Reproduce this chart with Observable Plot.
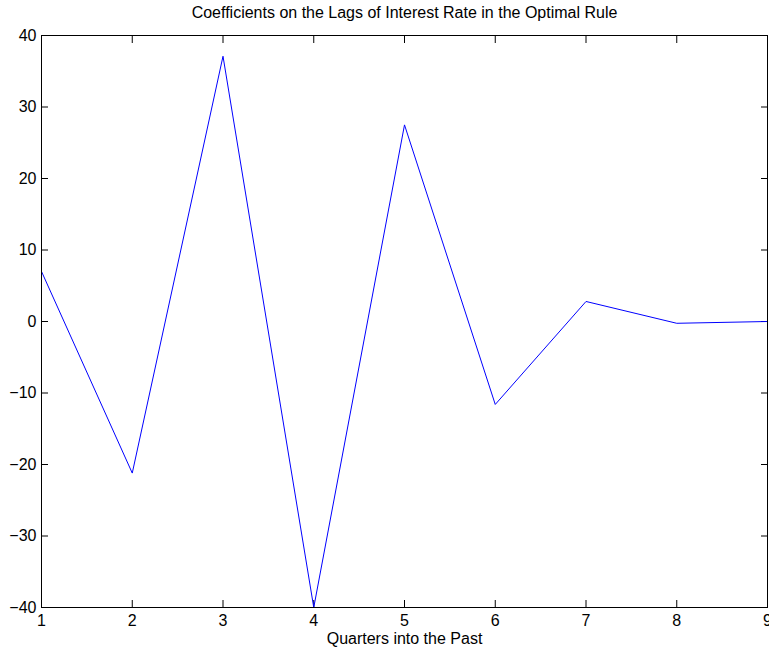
<!DOCTYPE html>
<html>
<head>
<meta charset="utf-8">
<script src="https://cdn.jsdelivr.net/npm/d3@7"></script>
<script src="https://cdn.jsdelivr.net/npm/@observablehq/plot@0.6"></script>
<style>
  html, body { margin: 0; padding: 0; background: #fff; }
  #chart svg { display: block; }
</style>
</head>
<body>
<div id="chart"></div>
<script>
const quarters = [1, 2, 3, 4, 5, 6, 7, 8, 9];
const coefficients = [7.0, -21.2, 37.1, -40.0, 27.5, -11.6, 2.8, -0.25, 0.0];
const xTicks = [1, 2, 3, 4, 5, 6, 7, 8, 9];
const yTicks = [-40, -30, -20, -10, 0, 10, 20, 30, 40];
const titleText = "Coefficients on the Lags of Interest Rate in the Optimal Rule";
const xLabelText = "Quarters into the Past";

const data = quarters.map((q, i) => ({q, v: coefficients[i]}));
const noText = () => "";

const chart = Plot.plot({
  width: 769,
  height: 649,
  marginTop: 35,
  marginBottom: 42,
  marginLeft: 41,
  marginRight: 2,
  style: {fontFamily: "'Liberation Sans', Arial, Helvetica, sans-serif", fontSize: "16px", color: "black", background: "white"},
  x: {domain: [1, 9], label: null},
  y: {domain: [-40, 40], label: null},
  marks: [
    Plot.axisX({anchor: "bottom", ticks: xTicks, tickSize: 0, tickPadding: 7, tickFormat: d3.format("d"), label: null, fontSize: 16}),
    Plot.axisX({anchor: "bottom", ticks: xTicks, tickSize: -7, tickFormat: noText, label: null}),
    Plot.axisX({anchor: "top", ticks: xTicks, tickSize: -7, tickFormat: noText, label: null}),
    Plot.axisY({anchor: "left", ticks: yTicks, tickSize: 0, tickPadding: 5, tickFormat: d3.format("d"), label: null, fontSize: 16}),
    Plot.axisY({anchor: "left", ticks: yTicks, tickSize: -7, tickFormat: noText, label: null}),
    Plot.axisY({anchor: "right", ticks: yTicks, tickSize: -7, tickFormat: noText, label: null}),
    Plot.line(data, {x: "q", y: "v", stroke: "#0000ff", strokeWidth: 1}),
    Plot.frame({stroke: "black", strokeWidth: 1}),
    Plot.text([titleText], {text: d => d, frameAnchor: "top", dy: -29, fontSize: 16, fill: "black"}),
    Plot.text([xLabelText], {text: d => d, frameAnchor: "bottom", dy: 36, fontSize: 16, fill: "black"})
  ]
});
document.getElementById("chart").appendChild(chart);
</script>
</body>
</html>
